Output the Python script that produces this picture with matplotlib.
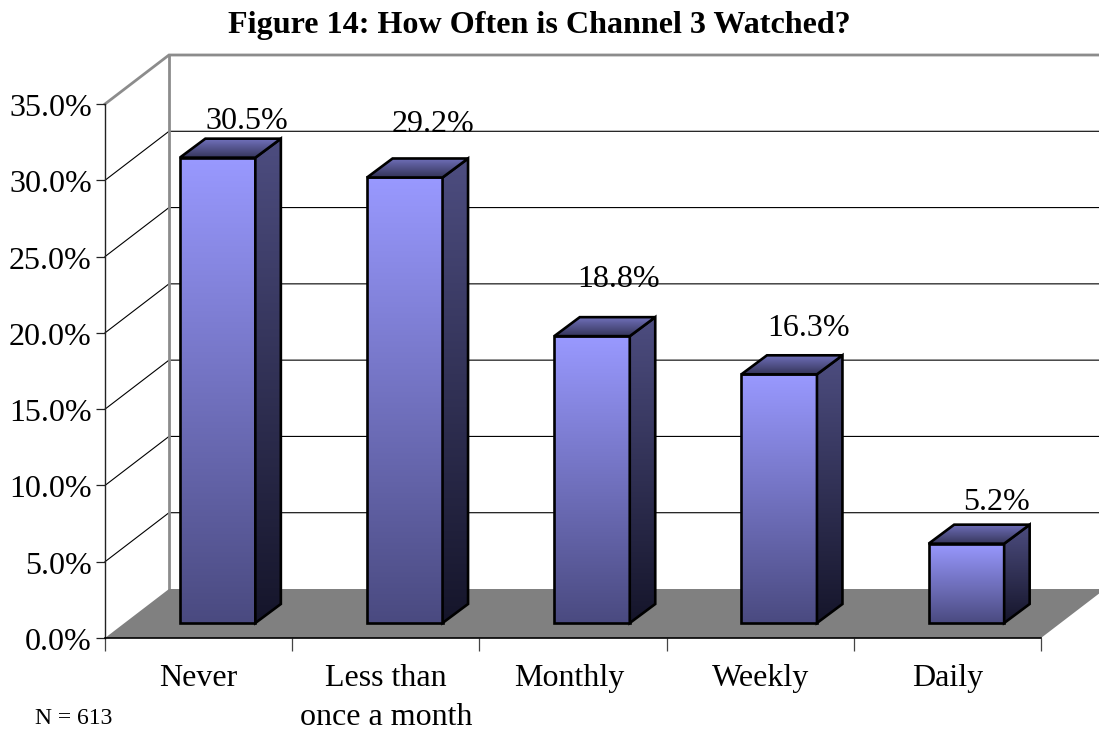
import numpy as np
import matplotlib
matplotlib.use("Agg")
import matplotlib.pyplot as plt
from matplotlib.patches import Polygon
from matplotlib.colors import LinearSegmentedColormap
from matplotlib.transforms import ScaledTranslation

categories = ["Never", "Less than\nonce a month", "Monthly", "Weekly", "Daily"]
values = [30.5, 29.2, 18.8, 16.3, 5.2]
value_labels = ["30.5%", "29.2%", "18.8%", "16.3%", "5.2%"]
y_ticks = [0, 5, 10, 15, 20, 25, 30, 35]
y_tick_labels = ["0.0%", "5.0%", "10.0%", "15.0%", "20.0%", "25.0%", "30.0%", "35.0%"]
title = "Figure 14: How Often is Channel 3 Watched?"
note = "N = 613"

W, H = 1099, 730
L, R, B, T = 105.0, 1041.0, 638.0, 104.0
plt.rcParams["font.family"] = ["Liberation Serif", "DejaVu Serif"]

fig = plt.figure(figsize=(W / 100, H / 100), dpi=100, facecolor="white")
ax = fig.add_axes([L / W, 1 - B / H, (R - L) / W, (B - T) / H])
ax.set_facecolor("none")

ux = (R - L) / 5      # px per category
uy = (B - T) / 35     # px per percent
wall_dx, wall_dy = 64 / ux, 49 / uy
bar_dx, bar_dy = 25.5 / ux, 19 / uy
shift_x, shift_y = 19 / ux, 15 / uy
bar_w = 75.5 / ux
xmax_ext = 1110 / ux

# walls and gridlines
for t in y_ticks[1:-1]:
    ax.plot([0, wall_dx, xmax_ext], [t, t + wall_dy, t + wall_dy], color="black", lw=0.8,
            clip_on=False, zorder=1, solid_joinstyle="miter")
grey = "#8c8c8c"
ax.plot([0, wall_dx, xmax_ext], [35, 35 + wall_dy, 35 + wall_dy], color=grey, lw=2.0,
        clip_on=False, zorder=1.5, solid_joinstyle="miter")
ax.plot([wall_dx, wall_dx], [wall_dy, 35 + wall_dy], color=grey, lw=2.0, clip_on=False, zorder=1.5)
ax.add_patch(Polygon([(0, 0), (wall_dx, wall_dy), (xmax_ext, wall_dy), (5 + wall_dx, wall_dy), (5, 0)],
                     closed=True, fc="#808080", ec="none", clip_on=False, zorder=2))


def grad_poly(pts, c_top, c_bot, zorder):
    pts = np.array(pts)
    cmap = LinearSegmentedColormap.from_list("g", [c_top, c_bot])
    g = np.linspace(0, 1, 256).reshape(-1, 1)
    ext = [pts[:, 0].min(), pts[:, 0].max(), pts[:, 1].min(), pts[:, 1].max()]
    im = ax.imshow(g, cmap=cmap, extent=ext, aspect="auto", origin="upper", zorder=zorder,
                   interpolation="bilinear", clip_on=True)
    poly = Polygon(pts, closed=True, fc="none", ec="black", lw=1.9, joinstyle="miter",
                   clip_on=False, zorder=zorder + 0.1)
    ax.add_patch(poly)
    im.set_clip_path(poly)


label_offsets = [(29, 36), (28, 53), (27, 57), (29, 46), (30, 41)]
for i, (v, lab) in enumerate(zip(values, value_labels)):
    xc = i + 0.5 + shift_x
    x0, x1 = xc - bar_w / 2, xc + bar_w / 2
    y0, y1 = shift_y, shift_y + v
    grad_poly([(x0, y0), (x1, y0), (x1, y1), (x0, y1)], "#9999ff", "#4a4a80", 3 + i)
    grad_poly([(x1, y0), (x1 + bar_dx, y0 + bar_dy), (x1 + bar_dx, y1 + bar_dy), (x1, y1)],
              "#4d4d80", "#15152a", 3.2 + i)
    grad_poly([(x0, y1), (x1, y1), (x1 + bar_dx, y1 + bar_dy), (x0 + bar_dx, y1 + bar_dy)],
              "#7070bb", "#35355a", 3.4 + i)
    ox, oy = label_offsets[i]
    ax.annotate(lab, (xc, y1), xytext=(ox * 0.72, oy * 0.72), textcoords="offset points",
                ha="center", va="center", fontsize=23, color="black", zorder=20, annotation_clip=False)

ax.set_xlim(0, 5)
ax.set_ylim(0, 35)
ax.set_yticks(y_ticks, y_tick_labels)
ax.set_xticks(range(6), [""] * 6)
ax.set_xticks(np.arange(5) + 0.5, categories, minor=True)
ax.tick_params(axis="y", length=6.5, width=0.9, pad=3, labelsize=23, color="#222222")
ax.tick_params(axis="x", which="major", length=9, width=0.9, color="#444444")
ax.tick_params(axis="x", which="minor", length=0, pad=19, labelsize=23)
minor_labels = ax.get_xticklabels(minor=True)
for lbl in minor_labels:
    lbl.set_linespacing(1.44)
minor_labels[2].set_transform(minor_labels[2].get_transform()
                              + ScaledTranslation(-4 / 100, 0, fig.dpi_scale_trans))
for lbl in ax.get_yticklabels():
    lbl.set_transform(lbl.get_transform() + ScaledTranslation(0, -1.0 / 100, fig.dpi_scale_trans))
for s in ("top", "right"):
    ax.spines[s].set_visible(False)
ax.spines["left"].set_linewidth(1.0)
ax.spines["left"].set_color("#222222")
ax.spines["bottom"].set_linewidth(1.2)
ax.spines["left"].set_zorder(30)
ax.spines["bottom"].set_zorder(30)

fig.text(539 / W, 1 - 25 / H, title, ha="center", va="center", fontsize=23.1, fontweight="bold")
fig.text(35 / W, 1 - 719 / H, note, ha="left", va="center", fontsize=17)

fig.savefig("out.png", dpi=100)
